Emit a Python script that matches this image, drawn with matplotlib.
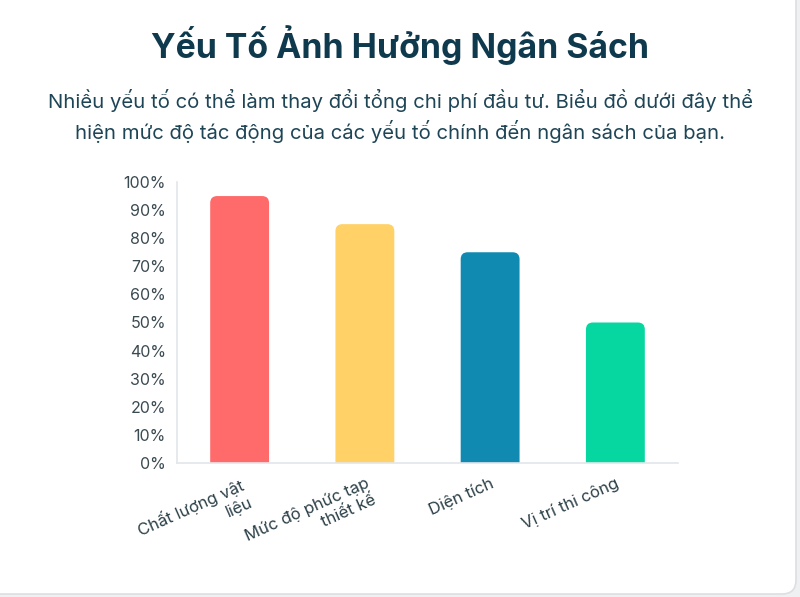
import matplotlib
matplotlib.use("Agg")
import matplotlib.pyplot as plt
from matplotlib.patches import FancyBboxPatch, PathPatch
from matplotlib.path import Path
import matplotlib.transforms as mtransforms

categories = ["Chất lượng vật\nliệu", "Mức độ phức tạp\nthiết kế", "Diện tích", "Vị trí thi công"]
values = [95, 85, 75, 50]
colors = ["#ff6b6b", "#ffd166", "#118ab2", "#06d6a0"]
yticks = [0, 10, 20, 30, 40, 50, 60, 70, 80, 90, 100]
ytick_labels = [f"{v}%" for v in yticks]

title = "Yếu Tố Ảnh Hưởng Ngân Sách"
subtitle = ("Nhiều yếu tố có thể làm thay đổi tổng chi phí đầu tư. Biểu đồ dưới đây thể\n"
            "hiện mức độ tác động của các yếu tố chính đến ngân sách của bạn.")

plt.rcParams['font.family'] = ['Inter', 'Noto Sans', 'DejaVu Sans']

W, H = 800, 597
fig = plt.figure(figsize=(W/100, H/100), dpi=100)
fig.patch.set_facecolor("#eef0f2")

card = FancyBboxPatch((-20, 3), W + 16, H + 20,
                      boxstyle="round,pad=0,rounding_size=14",
                      transform=None, facecolor="white", edgecolor="#dcdfe3", linewidth=1.2,
                      zorder=-10)
fig.patches.append(card)

fig.text(0.5, 1 - 45/H, title, ha="center", va="center", fontsize=24.3, fontweight="bold", color="#0f3a4d")
fig.text(0.5, 1 - 116/H, subtitle, ha="center", va="center", fontsize=14.6, color="#1e4556",
         linespacing=1.45)

left, right, top, bottom = 177, 678, 182, 463
ax = fig.add_axes([left/W, 1 - bottom/H, (right-left)/W, (bottom-top)/H])
ax.set_facecolor("none")
ax.set_xlim(-0.5, len(categories) - 0.5)
ax.set_ylim(0, 100)

bw = 0.47
px_x = (right - left) / len(categories)
px_y = (bottom - top) / 100.0
rx = 7 / px_x
ry = 7 / px_y
for i, (v, c) in enumerate(zip(values, colors)):
    x0, x1 = i - bw/2, i + bw/2
    verts = [(x0, 0), (x0, v - ry), (x0, v), (x0 + rx, v), (x1 - rx, v), (x1, v), (x1, v - ry),
             (x1, 0), (x0, 0)]
    codes = [Path.MOVETO, Path.LINETO, Path.CURVE3, Path.CURVE3, Path.LINETO, Path.CURVE3,
             Path.CURVE3, Path.LINETO, Path.CLOSEPOLY]
    ax.add_patch(PathPatch(Path(verts, codes), facecolor=c, edgecolor="none"))

ax.set_yticks(yticks)
ax.set_yticklabels(ytick_labels)
ax.tick_params(axis="y", length=0, pad=8, labelsize=11.5, labelcolor="#3a4a51")
ax.set_xticks(range(len(categories)))
ax.set_xticklabels(categories, rotation=24, ha="right", va="top", rotation_mode="anchor",
                   multialignment="right", linespacing=1.25)
ax.tick_params(axis="x", length=0, pad=9, labelsize=12, labelcolor="#2c4048")
offset = mtransforms.ScaledTranslation(0, 0, fig.dpi_scale_trans)
for lab in ax.get_xticklabels():
    lab.set_transform(lab.get_transform() + offset)

for s in ["top", "right"]:
    ax.spines[s].set_visible(False)
for s in ["left", "bottom"]:
    ax.spines[s].set_color("#e3e6ea")
    ax.spines[s].set_linewidth(1.2)

fig.savefig("out.png", dpi=100, facecolor=fig.get_facecolor())
